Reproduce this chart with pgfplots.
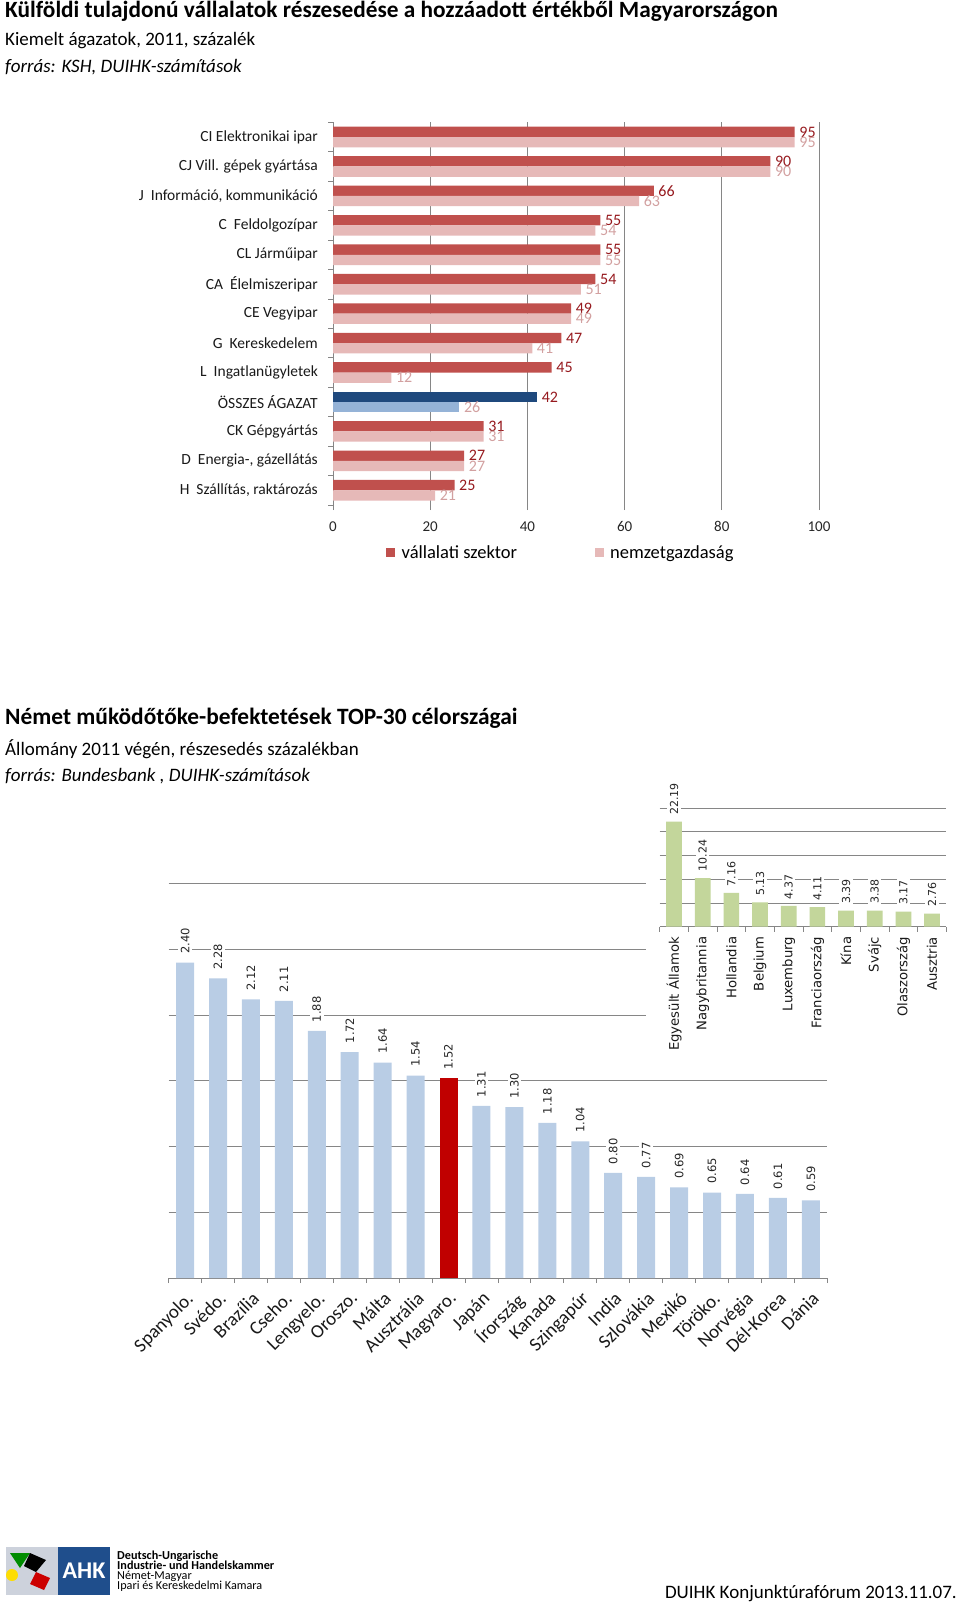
\documentclass[border=0pt]{standalone}
\usepackage{pgfplots}
\usepackage{pgfplotstable}
\pgfplotsset{compat=1.18}
\usepackage{fontspec}
\setmainfont{Carlito}
\newfontfamily\dejavu{DejaVu Sans}
\newcommand{\fs}[1]{\fontsize{#1}{#1}\selectfont}
\definecolor{redA}{RGB}{192,80,77}
\definecolor{redB}{RGB}{230,185,184}
\definecolor{navyA}{RGB}{31,73,125}
\definecolor{navyB}{RGB}{149,179,215}
\definecolor{redLab}{RGB}{150,25,30}
\definecolor{pinkLab}{RGB}{210,160,160}
\definecolor{gridgray}{RGB}{134,134,134}
\definecolor{barBlue}{RGB}{185,205,229}
\definecolor{hunRed}{RGB}{192,0,0}
\definecolor{barGreen}{RGB}{195,214,155}
\definecolor{logoBlue}{RGB}{31,78,140}
\definecolor{logoGray}{RGB}{205,210,220}
\pgfplotsset{/pgf/number format/assume math mode=true}

\pgfplotstableread{
y v n
12 95 95
11 90 90
10 66 63
9 55 54
8 55 55
7 54 51
6 49 49
5 47 41
4 45 12
2 31 31
1 27 27
0 25 21
}\secA
\pgfplotstableread{
y v n
3 42 26
}\secAll

\pgfplotstableread{
i v lab
0 2.40 2.40
1 2.28 2.28
2 2.12 2.12
3 2.11 2.11
4 1.88 1.88
5 1.72 1.72
6 1.64 1.64
7 1.54 1.54
9 1.31 1.31
10 1.30 1.30
11 1.18 1.18
12 1.04 1.04
13 0.80 0.80
14 0.77 0.77
15 0.69 0.69
16 0.65 0.65
17 0.64 0.64
18 0.61 0.61
19 0.59 0.59
}\bigA
\pgfplotstableread{
i v lab
8 1.52 1.52
}\bigHU
\pgfplotstableread{
i v lab
0 22.19 22.19
1 10.24 10.24
2 7.16 7.16
3 5.13 5.13
4 4.37 4.37
5 4.11 4.11
6 3.39 3.39
7 3.38 3.38
8 3.17 3.17
9 2.76 2.76
}\topTen

\begin{document}
\begin{tikzpicture}
\path[use as bounding box] (0pt,0pt) rectangle (960pt,-1603pt);

% ---------- titles, section 1
\node[anchor=base west, inner sep=0pt, font=\bfseries\fs{23.3}] at (5pt,-18pt) {Külföldi tulajdonú vállalatok részesedése a hozzáadott értékből Magyarországon};
\node[anchor=base west, inner sep=0pt, font=\fs{19}] at (5pt,-46pt) {Kiemelt ágazatok, 2011, százalék};
\node[anchor=base west, inner sep=0pt, font=\itshape\fs{19}] at (5pt,-72pt) {forrás: KSH, DUIHK-számítások};

% ---------- chart 1
\begin{axis}[
  at={(333pt,-505pt)}, anchor=south west,
  scale only axis, width=486pt, height=382.7pt,
  xmin=0, xmax=100, ymin=-0.5, ymax=12.5,
  axis x line*=bottom, axis y line*=left,
  x axis line style={draw=none},
  y axis line style={draw=gridgray, line width=0.8pt},
  tick align=outside, major tick length=5pt,
  tick style={gridgray, line width=0.8pt},
  xtick={0,20,40,60,80,100}, xticklabels={0,20,40,60,80,100},
  xmajorgrids, grid style={gridgray, line width=0.8pt},
  xticklabel style={font=\fs{15}, text=black!85, yshift=-8pt},
  ytick={-0.5,0.5,...,12.5}, yticklabels={},
  extra y ticks={0,1,...,12},
  extra y tick labels={H\ \ Szállítás{,} raktározás, D\ \ Energia-{,} gázellátás, CK Gépgyártás, ÖSSZES ÁGAZAT, L\ \ Ingatlanügyletek, G\ \ Kereskedelem, CE Vegyipar, CA\ \ Élelmiszeripar, CL Járműipar, C\ \ Feldolgozípar, J\ \ Információ{,} kommunikáció, CJ Vill. gépek gyártása, CI Elektronikai ipar},
  extra y tick style={major tick length=0pt},
  yticklabel style={font=\fs{15.5}, text=black!90, inner sep=0pt, xshift=-15pt},
  xbar, bar width=10.3pt,
  clip=false,
  legend columns=2,
  legend style={draw=none, fill=none, inner sep=0pt, font=\fs{18.5}, at={(0.109,-0.124)}, anchor=west,
    /tikz/every even column/.append style={column sep=71pt},
    nodes={inner xsep=6.5pt}},
  legend image code/.code={\fill[#1] (0pt,-4.5pt) rectangle (9pt,4.5pt);},
  every node near coord/.append style={anchor=west, font=\fs{16}, inner ysep=2pt, inner xsep=4.5pt},
]
\addplot[fill=redA, draw=none, bar shift=5.15pt, nodes near coords, every node near coord/.append style={text=redLab}] table[x=v,y=y]{\secA};
\addplot[fill=redB, draw=none, bar shift=-5.15pt, nodes near coords, every node near coord/.append style={text=pinkLab}] table[x=n,y=y]{\secA};
\addplot[fill=navyA, draw=none, bar shift=5.15pt, forget plot, nodes near coords, every node near coord/.append style={text=redLab}] table[x=v,y=y]{\secAll};
\addplot[fill=navyB, draw=none, bar shift=-5.15pt, forget plot, nodes near coords, every node near coord/.append style={text=pinkLab}] table[x=n,y=y]{\secAll};
\legend{vállalati szektor, nemzetgazdaság}
\end{axis}

% ---------- titles, section 2
\node[anchor=base west, inner sep=0pt, font=\bfseries\fs{23.4}] at (5pt,-724pt) {Német működőtőke-befektetések TOP-30 célországai};
\node[anchor=base west, inner sep=0pt, font=\fs{19}] at (5pt,-755pt) {Állomány 2011 végén, részesedés százalékban};
\node[anchor=base west, inner sep=0pt, font=\itshape\fs{19}] at (5pt,-781pt) {forrás: Bundesbank , DUIHK-számítások};

% ---------- chart 2 (big)
\begin{axis}[
  at={(168.6pt,-1278pt)}, anchor=south west,
  scale only axis, width=658.7pt, height=394.2pt,
  xmin=-0.5, xmax=19.5, ymin=0, ymax=3,
  axis x line*=bottom, axis y line*=left,
  x axis line style={draw=gridgray, line width=1pt},
  y axis line style={draw=none},
  ytick={0.5,1,...,3}, yticklabels={}, ytick style={draw=none},
  ymajorgrids, grid style={gridgray, line width=1pt},
  xtick={-0.5,0.5,...,19.5}, xticklabels={},
  tick align=outside, major tick length=5pt,
  xtick style={gridgray, line width=0.8pt},
  extra x ticks={0,1,...,19},
  extra x tick labels={Spanyolo., Svédo., Brazília, Cseho., Lengyelo., Oroszo., Málta, Ausztrália, Magyaro., Japán, Írország, Kanada, Szingapúr, India, Szlovákia, Mexikó, Töröko., Norvégia, Dél-Korea, Dánia},
  extra x tick style={major tick length=0pt},
  xticklabel shift=11pt,
  xticklabel style={rotate=45, anchor=north east, font=\fs{19}, text=black!90, inner sep=1pt},
  ybar, bar width=18pt,
  clip=false,
  point meta=explicit symbolic,
  every node near coord/.append style={rotate=90, anchor=west, font=\dejavu\fs{11.5}, text=black!85, fill=white, inner xsep=1.5pt, inner ysep=2.5pt, xshift=7pt},
]
\addplot[fill=barBlue, draw=none, bar shift=0pt, nodes near coords] table[x=i,y=v,meta=lab]{\bigA};
\addplot[fill=hunRed, draw=none, bar shift=0pt, nodes near coords] table[x=i,y=v,meta=lab]{\bigHU};
\end{axis}

\fill[white] (646pt,-785pt) rectangle (960pt,-1062pt);

% ---------- chart 3 (inset)
\begin{axis}[
  at={(659.7pt,-926.7pt)}, anchor=south west,
  scale only axis, width=286.7pt, height=118.5pt,
  xmin=-0.5, xmax=9.5, ymin=0, ymax=25,
  axis x line*=bottom, axis y line*=left,
  x axis line style={draw=gridgray, line width=1pt},
  y axis line style={draw=none},
  ytick={5,10,...,25}, yticklabels={}, ytick style={draw=none},
  ymajorgrids, grid style={gridgray, line width=1pt},
  xtick={-0.5,0.5,...,9.5}, xticklabels={},
  tick align=outside, major tick length=5pt,
  xtick style={gridgray, line width=0.8pt},
  extra x ticks={0,1,...,9},
  extra x tick labels={Egyesült Államok, Nagybritannia, Hollandia, Belgium, Luxemburg, Franciaország, Kína, Svájc, Olaszország, Ausztria},
  extra x tick style={major tick length=0pt},
  xticklabel shift=9pt,
  xticklabel style={rotate=90, anchor=east, font=\dejavu\fs{13.2}, text=black!90, inner sep=1pt},
  ybar, bar width=15.7pt,
  clip=false,
  point meta=explicit symbolic,
  every node near coord/.append style={rotate=90, anchor=west, font=\dejavu\fs{11}, text=black!85, fill=white, inner xsep=1.5pt, inner ysep=2.5pt, xshift=5pt},
]
\addplot[fill=barGreen, draw=none, bar shift=0pt, nodes near coords] table[x=i,y=v,meta=lab]{\topTen};
\end{axis}

% ---------- footer / logo
\fill[logoGray] (6pt,-1547pt) rectangle (58pt,-1595pt);
\fill[logoBlue] (58pt,-1547pt) rectangle (110pt,-1595pt);
\fill[green!55!black] (10pt,-1553pt) -- (30pt,-1553pt) -- (20pt,-1568pt) -- cycle;
\fill[black] (30pt,-1553pt) -- (46pt,-1560pt) -- (36pt,-1572pt) -- (24pt,-1566pt) -- cycle;
\fill[red!80!black] (36pt,-1572pt) -- (50pt,-1578pt) -- (44pt,-1590pt) -- (30pt,-1584pt) -- cycle;
\fill[yellow!80!orange] (12pt,-1575pt) circle (6pt);
\node[text=white, font=\bfseries\fs{24}] at (84pt,-1571pt) {AHK};
\node[anchor=base west, inner sep=0pt, font=\bfseries\fs{12.2}] at (117pt,-1559pt) {Deutsch-Ungarische};
\node[anchor=base west, inner sep=0pt, font=\bfseries\fs{12.2}] at (117pt,-1569pt) {Industrie- und Handelskammer};
\node[anchor=base west, inner sep=0pt, font=\fs{12.2}] at (117pt,-1579pt) {Német-Magyar};
\node[anchor=base west, inner sep=0pt, font=\fs{12.2}] at (117pt,-1589pt) {Ipari és Kereskedelmi Kamara};
\node[anchor=base east, inner sep=0pt, font=\fs{19}] at (957pt,-1598pt) {DUIHK Konjunktúrafórum 2013.11.07.};
\end{tikzpicture}
\end{document}
